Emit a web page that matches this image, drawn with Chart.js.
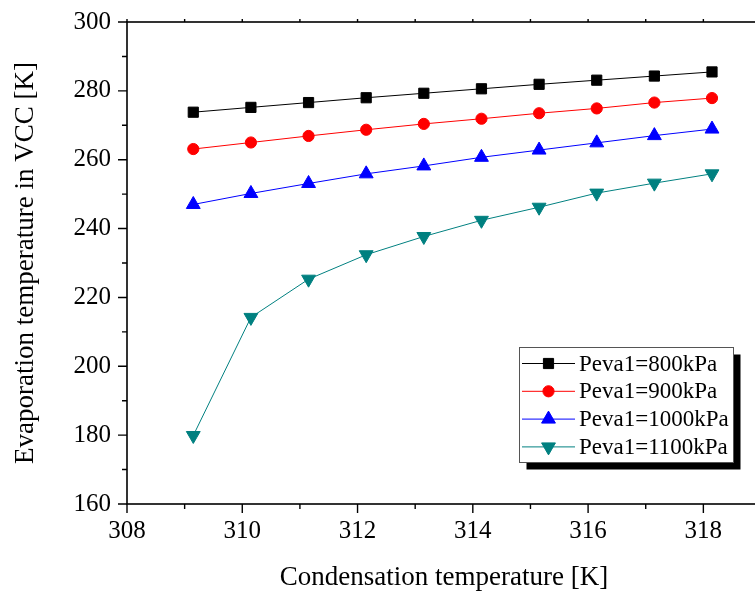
<!DOCTYPE html>
<html>
<head>
<meta charset="utf-8">
<script src="https://cdn.jsdelivr.net/npm/chart.js@4.4.0/dist/chart.umd.min.js"></script>
<style>
  html, body { margin: 0; padding: 0; background: #fff; overflow: hidden; }
  #wrap { position: relative; width: 755px; height: 594px; overflow: hidden; }
  #evapChart { position: absolute; left: 0; top: 0; }
</style>
</head>
<body>
<div id="wrap"><canvas id="evapChart" width="770" height="594"></canvas></div>
<script>
// condensation temperature [K]
const condTemp = [309.15, 310.15, 311.15, 312.15, 313.15, 314.15, 315.15, 316.15, 317.15, 318.15];

// evaporation temperature in VCC [K], one series per Peva1
const peva800  = [273.8, 275.2, 276.6, 278.0, 279.3, 280.6, 281.9, 283.1, 284.3, 285.5];
const peva900  = [263.1, 265.0, 266.9, 268.7, 270.4, 271.9, 273.5, 274.9, 276.6, 277.9];
const peva1000 = [247.0, 250.2, 253.1, 255.9, 258.2, 260.7, 262.8, 264.9, 267.0, 268.9];
const peva1100 = [179.9, 214.2, 225.3, 232.4, 237.7, 242.4, 246.2, 250.3, 253.2, 255.9];

const seriesLabels = ["Peva1=800kPa", "Peva1=900kPa", "Peva1=1000kPa", "Peva1=1100kPa"];

const SERIF = '"Liberation Serif", "Times New Roman", serif';
Chart.defaults.font.family = SERIF;
Chart.defaults.color = "#000";

const pts = arr => condTemp.map((x, i) => ({ x: x, y: arr[i] }));

function series(label, arr, color, style, radius, rotation) {
  return {
    label: label,
    data: pts(arr),
    borderColor: color,
    backgroundColor: color,
    borderWidth: 1,
    pointStyle: style,
    pointRadius: radius,
    pointRotation: rotation || 0,
    pointBorderWidth: 1,
    pointBorderColor: color,
    pointBackgroundColor: color,
    tension: 0
  };
}

// axis frame with major/minor ticks pointing outward
const framePlugin = {
  id: "frame",
  afterDraw(chart) {
    const { ctx, chartArea: a, scales: { x, y } } = chart;
    ctx.save();
    ctx.strokeStyle = "#000";
    ctx.lineWidth = 1.6;
    ctx.strokeRect(a.left, a.top, a.right - a.left, a.bottom - a.top);
    ctx.lineWidth = 1.4;
    ctx.beginPath();
    x.ticks.forEach(t => {
      const px = x.getPixelForValue(t.value);
      const len = t.value % 2 === 0 ? 9 : 5;
      ctx.moveTo(px, a.bottom); ctx.lineTo(px, a.bottom + len);
      ctx.moveTo(px, a.top); ctx.lineTo(px, a.top - 3);
    });
    y.ticks.forEach(t => {
      const py = y.getPixelForValue(t.value);
      const len = t.value % 20 === 0 ? 9 : 5;
      ctx.moveTo(a.left, py); ctx.lineTo(a.left - len, py);
    });
    ctx.stroke();
    ctx.restore();
  }
};

// boxed legend with drop shadow, lower right
const boxLegend = {
  id: "boxLegend",
  afterDraw(chart) {
    const ctx = chart.ctx;
    const bx = 519.5, by = 347.5, bw = 214, bh = 115;
    ctx.save();
    ctx.fillStyle = "#000";
    ctx.fillRect(bx + 7, by + 7, bw, bh);
    ctx.fillStyle = "#fff";
    ctx.fillRect(bx, by, bw, bh);
    ctx.strokeStyle = "#555";
    ctx.lineWidth = 1;
    ctx.strokeRect(bx, by, bw, bh);
    ctx.font = "23px " + SERIF;
    ctx.textBaseline = "middle";
    ctx.textAlign = "left";
    chart.data.datasets.forEach((ds, i) => {
      const cy = 363.5 + i * 27.8;
      ctx.strokeStyle = ds.borderColor;
      ctx.lineWidth = 1;
      ctx.beginPath();
      ctx.moveTo(522, cy); ctx.lineTo(575, cy);
      ctx.stroke();
      ctx.fillStyle = ds.pointBackgroundColor;
      ctx.strokeStyle = ds.pointBorderColor;
      Chart.helpers.drawPoint(ctx, {
        pointStyle: ds.pointStyle,
        rotation: ds.pointRotation,
        radius: ds.pointRadius,
        borderWidth: ds.pointBorderWidth
      }, 548.5, cy);
      ctx.fillStyle = "#000";
      ctx.fillText(ds.label, 579, cy + 1);
    });
    ctx.restore();
  }
};

new Chart(document.getElementById("evapChart"), {
  type: "line",
  data: {
    datasets: [
      series(seriesLabels[0], peva800, "#000000", "rect", 7.2),
      series(seriesLabels[1], peva900, "#ff0000", "circle", 5.6),
      series(seriesLabels[2], peva1000, "#0000ff", "triangle", 8),
      series(seriesLabels[3], peva1100, "#008080", "triangle", 8, 180)
    ]
  },
  options: {
    responsive: false,
    animation: false,
    devicePixelRatio: 1,
    layout: { padding: { top: 22, right: 2, left: 0, bottom: 0 } },
    plugins: { legend: { display: false }, tooltip: { enabled: false } },
    scales: {
      x: {
        type: "linear",
        min: 308,
        max: 319,
        grid: { display: false, drawTicks: false },
        border: { display: false },
        ticks: {
          stepSize: 1,
          autoSkip: false,
          maxRotation: 0,
          padding: 12,
          font: { size: 25 },
          callback: v => (v % 2 === 0 ? v : "")
        },
        title: {
          display: true,
          text: "Condensation temperature [K]",
          font: { size: 27 },
          padding: { top: 0, bottom: 0 }
        },
        afterFit: s => { s.height = 90; s.paddingLeft = 0; s.paddingRight = 0; }
      },
      y: {
        min: 160,
        max: 300,
        grid: { display: false, drawTicks: false },
        border: { display: false },
        ticks: {
          stepSize: 10,
          autoSkip: false,
          padding: 16,
          font: { size: 25 },
          callback: v => (v % 20 === 0 ? v : "")
        },
        title: {
          display: true,
          text: "Evaporation temperature in VCC [K]",
          font: { size: 27 },
          padding: { top: 10, bottom: 0 }
        },
        afterFit: s => { s.width = 127; s.paddingTop = 0; s.paddingBottom = 0; }
      }
    }
  },
  plugins: [framePlugin, boxLegend]
});
</script>
</body>
</html>
